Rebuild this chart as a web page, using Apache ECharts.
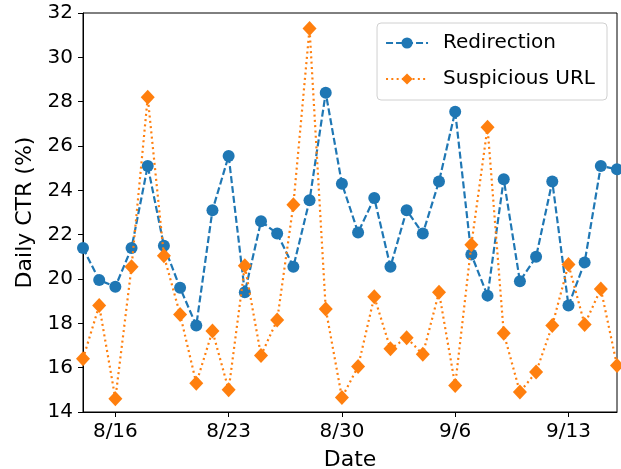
<!DOCTYPE html>
<html>
<head>
<meta charset="utf-8">
<script src="https://cdn.jsdelivr.net/npm/echarts@6/dist/echarts.min.js"></script>
<style>
  html, body { margin: 0; padding: 0; background: #fff; }
  #chart { width: 621px; height: 469px; }
</style>
</head>
<body>
<div id="chart"></div>
<script>
// daily dates 8/14 .. 9/16
var dates = [
  "8/14", "8/15", "8/16", "8/17", "8/18", "8/19", "8/20", "8/21", "8/22", "8/23",
  "8/24", "8/25", "8/26", "8/27", "8/28", "8/29", "8/30", "8/31", "9/1", "9/2",
  "9/3", "9/4", "9/5", "9/6", "9/7", "9/8", "9/9", "9/10", "9/11", "9/12",
  "9/13", "9/14", "9/15", "9/16"
];
var tickLabels = ["8/16", "8/23", "8/30", "9/6", "9/13"];

var redirection = [
  21.4, 19.95, 19.65, 21.4, 25.1, 21.5, 19.6, 17.9, 23.1, 25.55,
  19.4, 22.6, 22.05, 20.55, 23.55, 28.4, 24.3, 22.1, 23.65, 20.55,
  23.1, 22.05, 24.4, 27.55, 21.1, 19.25, 24.5, 19.9, 21.0, 24.4,
  18.8, 20.75, 25.1, 24.95
];
var suspiciousUrl = [
  16.4, 18.8, 14.6, 20.55, 28.2, 21.05, 18.4, 15.3, 17.65, 15.0,
  20.6, 16.55, 18.15, 23.35, 31.3, 18.65, 14.65, 16.05, 19.2, 16.85,
  17.35, 16.6, 19.4, 15.2, 21.55, 26.85, 17.55, 14.9, 15.8, 17.9,
  20.65, 17.95, 19.55, 16.1
];

var myChart = echarts.init(document.getElementById("chart"));
var font = "DejaVu Sans";
var showTick = function (idx, val) {
  return tickLabels.indexOf(val) >= 0;
};

var option = {
  animation: false,
  textStyle: { fontFamily: font },
  grid: {
    left: 83,
    right: 4,
    top: 13,
    bottom: 57,
    containLabel: false,
    outerBoundsMode: "none",
    show: true,
    borderColor: "#000",
    borderWidth: 1
  },
  legend: {
    right: 14,
    top: 23,
    orient: "vertical",
    itemWidth: 42,
    itemHeight: 14,
    itemGap: 16,
    padding: [10, 12, 11, 8],
    borderColor: "#d0d0d0",
    borderWidth: 1,
    borderRadius: 4,
    textStyle: { fontFamily: font, fontSize: 20, color: "#000", padding: [0, 0, 0, 10] },
    data: ["Redirection", "Suspicious URL"]
  },
  xAxis: {
    type: "category",
    boundaryGap: false,
    data: dates,
    name: "Date",
    nameLocation: "middle",
    nameGap: 37,
    nameTextStyle: { fontFamily: font, fontSize: 22, color: "#000" },
    axisLine: { lineStyle: { color: "#000", width: 1 } },
    axisTick: { interval: showTick, length: 5, lineStyle: { color: "#000" } },
    axisLabel: {
      interval: showTick,
      fontFamily: font,
      fontSize: 20,
      color: "#000",
      margin: 10
    },
    splitLine: { show: false }
  },
  yAxis: {
    type: "value",
    min: 14,
    max: 32,
    interval: 2,
    name: "Daily CTR (%)",
    nameLocation: "middle",
    nameGap: 42,
    nameTextStyle: { fontFamily: font, fontSize: 22, color: "#000" },
    axisLine: { show: true, lineStyle: { color: "#000", width: 1 } },
    axisTick: { show: true, length: 5, lineStyle: { color: "#000" } },
    axisLabel: { fontFamily: font, fontSize: 20, color: "#000", margin: 10 },
    splitLine: { show: false }
  },
  series: [
    {
      name: "Redirection",
      type: "line",
      data: redirection,
      showAllSymbol: true,
      symbol: "circle",
      symbolSize: 12,
      itemStyle: { color: "#1f77b4" },
      lineStyle: { color: "#1f77b4", width: 2.2, type: [7, 3] },
      z: 2
    },
    {
      name: "Suspicious URL",
      type: "line",
      data: suspiciousUrl,
      showAllSymbol: true,
      symbol: "diamond",
      symbolSize: [14, 15],
      itemStyle: { color: "#ff7f0e" },
      lineStyle: { color: "#ff7f0e", width: 2.2, type: [2, 3.3] },
      z: 3
    }
  ]
};

myChart.setOption(option);
window.addEventListener("resize", function () {
  myChart.resize();
});
</script>
</body>
</html>
